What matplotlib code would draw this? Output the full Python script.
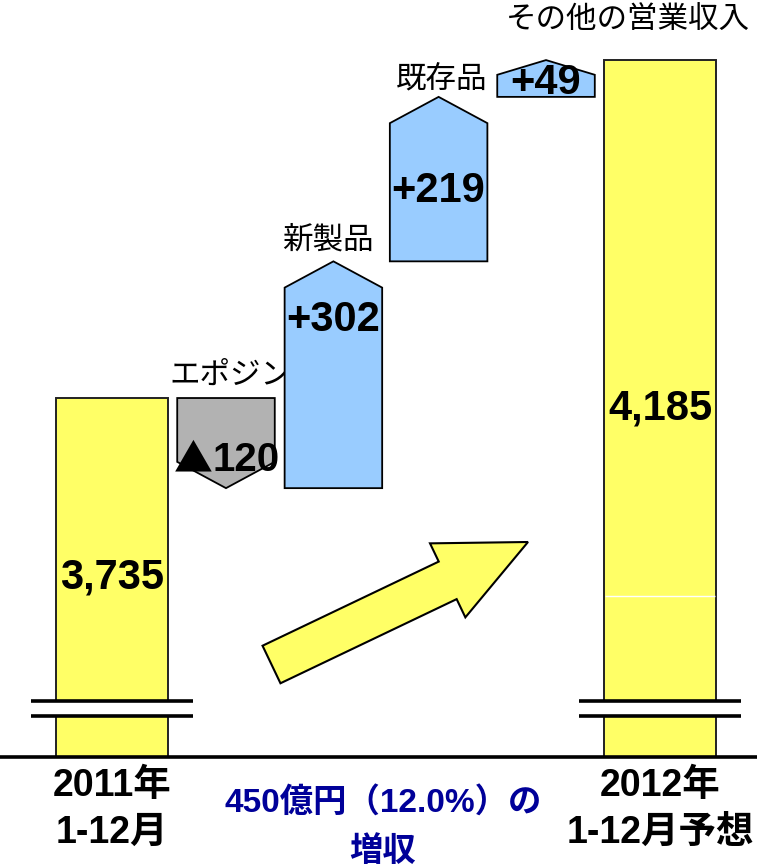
import matplotlib
matplotlib.use('Agg')
import matplotlib.pyplot as plt
import matplotlib.patches as mpatches
import matplotlib.transforms as mtransforms

# ---------------- data ----------------
categories = ['2011年\n1-12月', 'エポジン', '新製品', '既存品', 'その他の営業収入', '2012年\n1-12月予想']
start_value = 3735
deltas = [-120, 302, 219, 49]
end_value = 4185
value_labels = ['3,735', '▲120', '+302', '+219', '+49', '4,185']
summary_text = '450億円（12.0%）の\n増収'

# ---------------- layout / style ----------------
W, H = 757, 867
AX_BOTTOM_PX = 757
ylo, yhi = 3257, 4265
positions = [0, 1.04, 2.02, 2.98, 3.96, 5]
end_width = 1.02
mid_width = 0.89
yellow = '#FFFF66'
blue = '#99CCFF'
gray = '#B2B2B2'
navy = '#000099'
num_font = ['Liberation Sans', 'DejaVu Sans']
jp_font = ['Noto Sans CJK JP', 'DejaVu Sans']
mix_font = ['Liberation Sans', 'Noto Sans CJK JP', 'DejaVu Sans']
text_fracs = [0.69, 0.74, 0.43, 0.37]         # relative position of value text in delta bars
cat_label_dx = [0.04, -0.05, 0.03, 0.75]     # offsets of category labels above delta bars
cat_label_dy = [30, 28, 24, 53]
break_lo, break_hi = 3312, 3331
break_half = 0.74
VAL_FS = 30

fig = plt.figure(figsize=(W / 100, H / 100), dpi=100)
ax = fig.add_axes([0, (H - AX_BOTTOM_PX) / H, 1, AX_BOTTOM_PX / H])
ax.set_xlim(-1.022, 5.885)
ax.set_ylim(ylo, yhi)
ax.axis('off')

# baseline
ax.plot([0, 1], [0, 0], transform=ax.transAxes, color='black', lw=2.6,
        clip_on=False, zorder=6, solid_capstyle='butt')

# end bars
ax.bar(positions[0], start_value - ylo, bottom=ylo, width=end_width,
       color=yellow, edgecolor='#222222', lw=1.4, zorder=2)
ax.bar(positions[-1], end_value - ylo, bottom=ylo, width=end_width,
       color=yellow, edgecolor='#222222', lw=1.4, zorder=2)
ax.hlines(3471, positions[-1] - end_width / 2 + 0.01, positions[-1] + end_width / 2 - 0.01,
          color='white', lw=1.0, zorder=3)

ax.text(positions[0], (start_value + ylo) / 2, value_labels[0], ha='center', va='center',
        fontsize=VAL_FS, fontweight='bold', family=num_font, zorder=5)
ax.text(positions[-1], (end_value + ylo) / 2, value_labels[-1], ha='center', va='center',
        fontsize=VAL_FS, fontweight='bold', family=num_font, zorder=5)

# delta bars (pentagon arrows)
cum = start_value
for i, d in enumerate(deltas):
    c = positions[i + 1]
    w = mid_width / 2
    s, e = cum, cum + d
    h = min(35, 0.4 * abs(d))
    if d >= 0:
        verts = [(c - w, s), (c + w, s), (c + w, e - h), (c, e), (c - w, e - h)]
        fc = blue
    else:
        verts = [(c - w, s), (c + w, s), (c + w, e + h), (c, e), (c - w, e + h)]
        fc = gray
    ax.add_patch(mpatches.Polygon(verts, closed=True, facecolor=fc,
                                  edgecolor='black', lw=1.3, zorder=2))
    ty = s + text_fracs[i] * d
    lab = value_labels[i + 1]
    if lab.startswith('▲'):
        split_x = c - 0.125
        ax.text(split_x, ty, '▲', ha='right', va='center', fontsize=VAL_FS - 2,
                family=jp_font, zorder=5)
        ax.text(split_x, ty, lab[1:], ha='left', va='center', fontsize=VAL_FS - 1,
                fontweight='bold', family=num_font, zorder=5)
    else:
        ax.text(c, ty, lab, ha='center', va='center', fontsize=VAL_FS,
                fontweight='bold', family=num_font, zorder=5)
    top = max(s, e)
    ax.text(c + cat_label_dx[i], top + cat_label_dy[i], categories[i + 1],
            ha='center', va='center', fontsize=22, family=jp_font, zorder=1)
    cum = e

# axis break marks
for c in (positions[0], positions[-1]):
    ax.fill_between([c - break_half, c + break_half], break_lo, break_hi,
                    color='white', zorder=3, lw=0)
    ax.hlines([break_lo, break_hi], c - break_half, c + break_half,
              color='black', lw=2.6, zorder=4)

# big arrow (in inches, pixel-derived)
tail = (271.5 / 100, (H - 664.5) / 100)
arrow = mpatches.FancyArrow(tail[0], tail[1], 2.565, 1.225, width=0.416,
                            head_width=0.82, head_length=0.89,
                            length_includes_head=True, transform=fig.dpi_scale_trans,
                            facecolor=yellow, edgecolor='black', lw=1.5, zorder=3)
fig.patches.append(arrow)

# bottom labels
blend = mtransforms.blended_transform_factory(ax.transData, fig.transFigure)
for c, lab in ((positions[0], categories[0]), (positions[-1], categories[-1])):
    for line, ypx in zip(lab.split('\n'), (786, 833)):
        ax.text(c, 1 - ypx / H, line, transform=blend, ha='center', va='center',
                fontsize=27, fontweight='bold', family=mix_font, clip_on=False)

for line, ypx in zip(summary_text.split('\n'), (803, 852)):
    fig.text(383 / W, 1 - ypx / H, line, ha='center', va='center', fontsize=24,
             fontweight='bold', family=mix_font, color=navy)

fig.savefig('out.png', dpi=100)
